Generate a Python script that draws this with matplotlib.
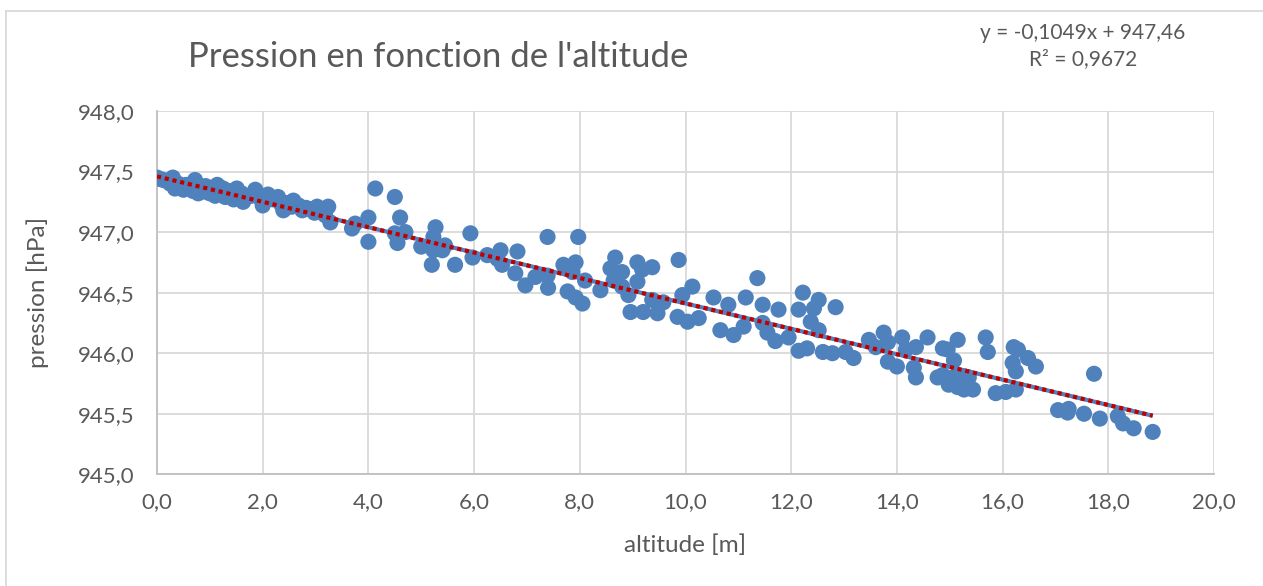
import matplotlib
matplotlib.use("Agg")
import matplotlib.pyplot as plt
from matplotlib.lines import Line2D
import numpy as np

altitude = [
    0.0, 0.05, 0.12, 0.2, 0.3, 0.34, 0.4, 0.45, 0.55, 0.62, 0.72, 0.78, 0.85, 0.92, 1.0, 1.05,
    1.14, 1.2, 1.29, 1.35, 1.42, 1.51, 1.57, 1.63, 1.7, 1.78, 1.86, 2.0, 2.1, 2.2, 2.29, 2.39,
    2.47, 2.58, 2.68, 2.75, 2.9, 3.03, 3.12, 3.24, 3.28,
    0.25, 0.5, 0.68, 0.95, 1.1, 1.25, 1.45, 1.6, 1.95, 2.35, 2.55, 2.82, 2.98, 3.18,
    3.69, 3.75, 4.0, 4.0, 4.13, 4.5, 4.6, 4.5, 4.55, 4.7, 5.0, 5.27, 5.23, 5.23, 5.2, 5.45, 5.4,
    5.64, 5.93, 5.97, 6.25, 6.44, 6.5, 6.53, 6.82, 6.78, 6.97, 7.16, 7.39, 7.39, 7.4, 7.69, 7.92,
    7.86, 7.97, 7.77, 7.92, 8.05, 8.1, 8.39, 8.67, 8.58, 8.8, 8.64, 8.8, 9.09, 9.18, 9.37, 9.09,
    8.92, 8.96, 9.2, 9.47, 9.58, 9.37, 9.87, 10.13, 9.94, 9.85, 10.04, 10.25, 10.53, 10.81, 11.14,
    11.36, 10.66, 10.91, 11.1, 11.46, 11.46, 11.55, 11.7, 11.76, 11.95, 12.14, 12.22, 12.43, 12.52,
    12.84, 12.37, 12.52, 12.14, 12.3, 12.6, 12.78, 13.03, 13.18,
    13.47, 13.6, 13.75, 13.83, 13.83, 14.0, 14.1, 14.17, 14.36, 14.32, 14.36, 14.58, 14.87, 14.96,
    15.15, 15.08, 14.77, 14.87, 14.98, 15.06, 15.27, 15.27, 15.44, 15.36, 15.15, 15.68, 15.72,
    15.87, 16.06, 16.25, 16.21, 16.29, 16.19, 16.25, 16.48, 16.63, 17.73, 17.05, 17.25, 17.23,
    17.54, 17.84, 18.18, 18.28, 18.48, 18.84,
]
pression = [
    947.45, 947.44, 947.43, 947.42, 947.45, 947.36, 947.40, 947.38, 947.39, 947.37, 947.43, 947.32,
    947.36, 947.38, 947.32, 947.36, 947.39, 947.33, 947.29, 947.34, 947.31, 947.36, 947.30, 947.25,
    947.29, 947.30, 947.35, 947.22, 947.31, 947.27, 947.29, 947.18, 947.24, 947.26, 947.22, 947.18,
    947.19, 947.21, 947.17, 947.21, 947.08,
    947.40, 947.35, 947.34, 947.33, 947.30, 947.36, 947.27, 947.32, 947.28, 947.23, 947.21, 947.20,
    947.16, 947.14,
    947.03, 947.07, 947.12, 946.92, 947.36, 947.29, 947.12, 946.99, 946.91, 947.00, 946.88, 947.04,
    946.96, 946.85, 946.73, 946.89, 946.85, 946.73, 946.99, 946.79, 946.81, 946.78, 946.85, 946.73,
    946.84, 946.66, 946.56, 946.63, 946.96, 946.64, 946.54, 946.73, 946.75, 946.67, 946.96, 946.51,
    946.46, 946.41, 946.60, 946.52, 946.79, 946.70, 946.67, 946.60, 946.55, 946.75, 946.69, 946.71,
    946.59, 946.48, 946.34, 946.34, 946.33, 946.42, 946.44, 946.77, 946.55, 946.48, 946.30, 946.26,
    946.29, 946.46, 946.40, 946.46, 946.62, 946.19, 946.15, 946.22, 946.40, 946.25, 946.17, 946.10,
    946.36, 946.13, 946.36, 946.50, 946.37, 946.44, 946.38, 946.26, 946.19, 946.02, 946.04, 946.01,
    946.00, 946.01, 945.96,
    946.11, 946.05, 946.17, 946.09, 945.93, 945.89, 946.13, 946.03, 946.05, 945.88, 945.80, 946.13,
    946.04, 946.03, 946.11, 945.94, 945.80, 945.82, 945.74, 945.80, 945.70, 945.81, 945.70, 945.80,
    945.72, 946.13, 946.01, 945.67, 945.68, 945.70, 946.05, 946.03, 945.92, 945.85, 945.96, 945.89,
    945.83, 945.53, 945.54, 945.51, 945.50, 945.46, 945.48, 945.42, 945.38, 945.35,
]
slope = -0.1049
intercept = 947.46
r2 = 0.9672
x_ticks = [0, 2, 4, 6, 8, 10, 12, 14, 16, 18, 20]
y_ticks = [945.0, 945.5, 946.0, 946.5, 947.0, 947.5, 948.0]

FONT = ["Lato", "DejaVu Sans"]
plt.rcParams['font.family'] = FONT
TXT = "#595959"

fig = plt.figure(figsize=(12.63, 5.86), dpi=100)
W, H = 1263, 586
ax = fig.add_axes([157 / W, 1 - 474.3 / H, (1214 - 157) / W, (474.3 - 111) / H])

ax.scatter(altitude, pression, s=135, color="#4f81bd", edgecolors="none", zorder=3)

xs = np.array([min(altitude), max(altitude)])
ys = slope * xs + intercept
ax.plot(xs, ys, color="#4f81bd", lw=3.0, zorder=4, solid_capstyle="butt")
ax.plot(xs, ys, color="#c00000", lw=3.0, zorder=5, linestyle=(0, (1.0, 0.9)), dash_capstyle="butt")

ax.set_xlim(0, 20)
ax.set_ylim(945, 948)
ax.set_xticks(x_ticks)
ax.set_yticks(y_ticks)
ax.set_xticklabels([f"{v:.1f}".replace(".", ",") for v in x_ticks])
ax.set_yticklabels([f"{v:.1f}".replace(".", ",") for v in y_ticks])
ax.grid(True, color="#d9d9d9", lw=1.3, zorder=0)
ax.set_axisbelow(True)
for s in ["top", "right"]:
    ax.spines[s].set_visible(False)
for s in ["left", "bottom"]:
    ax.spines[s].set_color("#bfbfbf")
    ax.spines[s].set_linewidth(1.3)
ax.tick_params(length=0, labelsize=16, colors=TXT)
ax.tick_params(axis="y", pad=16)
ax.tick_params(axis="x", pad=13)

ax.set_xlabel("altitude [m]", fontsize=17.5, color=TXT, va="center")
ax.set_ylabel("pression [hPa]", fontsize=17.5, color=TXT, va="center")
ax.xaxis.set_label_coords((685 - 157) / 1057, (474.3 - 545) / 363.3)
ax.yaxis.set_label_coords((38 - 157) / 1057, (474.3 - 292) / 363.3)

fig.text(438 / W, 1 - 57 / H, "Pression en fonction de l'altitude", ha="center", va="center",
         fontsize=25, color=TXT)
fig.text(1083 / W, 1 - 33 / H, f"y = {slope:.4f}x + {intercept:.2f}".replace(".", ","),
         ha="center", va="center", fontsize=15, color=TXT)
fig.text(1083 / W, 1 - 59 / H, f"R² = {r2:.4f}".replace(".", ","),
         ha="center", va="center", fontsize=15, color=TXT)

# chart border (top and left visible)
fig.add_artist(Line2D([6 / W, 1], [1 - 11 / H, 1 - 11 / H], color="#d9d9d9", lw=1.3))
fig.add_artist(Line2D([6 / W, 6 / W], [0, 1 - 11 / H], color="#d9d9d9", lw=1.3))

fig.savefig("out.png", dpi=100, facecolor="white")
